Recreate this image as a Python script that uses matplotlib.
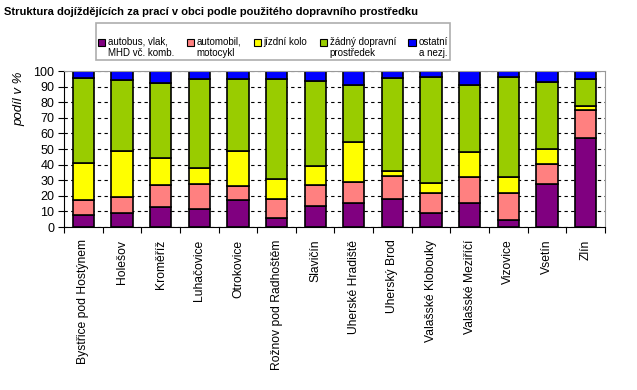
import numpy as np
import matplotlib.pyplot as plt
from matplotlib.patches import Patch

plt.rcParams['font.family'] = ['Liberation Sans', 'DejaVu Sans']

cities = ['Bystřice pod Hostýnem', 'Holešov', 'Kroměříž', 'Luhačovice', 'Otrokovice',
          'Rožnov pod Radhoštěm', 'Slavičín', 'Uherské Hradiště', 'Uherský Brod',
          'Valašské Klobouky', 'Valašské Meziříčí', 'Vizovice', 'Vsetín', 'Zlín']

# shares in % for each mode of transport
bus = [8, 8.7, 13, 11.7, 17, 6, 13.6, 15.6, 17.7, 9.2, 15.6, 4.7, 27.7, 57]
car = [9, 10.3, 14, 16, 9.5, 11.7, 13.4, 13.4, 15.1, 12.8, 16.6, 16.8, 12.8, 18]
bike = [24, 30, 17, 10.3, 22, 12.8, 12.2, 25.2, 3.2, 6, 15.6, 10.7, 9.5, 2.6]
none = [54.3, 45, 48.5, 57, 46.5, 64.5, 54.4, 36.8, 59.3, 68.4, 43.2, 64.2, 43, 17.4]
other = [4.7, 6, 7.5, 5, 5, 5, 6.4, 9, 4.7, 3.6, 9, 3.6, 7, 5]

series = [bus, car, bike, none, other]
labels = ['\nautobus, vlak,\nMHD vč. komb.', '\nautomobil,\nmotocykl', '\njízdní kolo\n ',
          '\nžádný dopravní\nprostředek', '\nostatní\na nezj.']
colors = ['#800080', '#FF8080', '#FFFF00', '#99CC00', '#0000FF']

fig = plt.figure(figsize=(6.37, 3.90), dpi=100)
ax = fig.add_axes([64/637, 1-227/390, 541/637, 156/390])

x = np.arange(len(cities))
bottom = np.zeros(len(cities))
for vals, col in zip(series, colors):
    vals = np.array(vals)
    ax.bar(x, vals, 0.55, bottom=bottom, color=col, edgecolor='black', linewidth=1.2)
    bottom += vals

ax.set_xlim(-0.5, len(cities) - 0.5)
ax.set_ylim(0, 100)
ax.set_yticks(range(0, 101, 10))
ax.tick_params(axis='y', labelsize=9, length=4, pad=3)
ax.set_xticks(np.arange(len(cities) + 1) - 0.5)
ax.set_xticklabels([])
ax.tick_params(axis='x', which='major', length=4)
ax.set_xticks(x, minor=True)
ax.set_xticklabels(cities, minor=True, rotation=90, fontsize=8.7)
ax.tick_params(axis='x', which='minor', length=0, pad=9)
ax.yaxis.grid(True, linestyle=(0, (3, 3)), color='black', linewidth=0.8)
ax.set_axisbelow(True)
ax.spines['top'].set_color('#999999')
ax.spines['right'].set_color('#999999')
ax.set_ylabel('podíl v %', fontsize=9.5, style='italic')
ax.yaxis.set_label_coords(-0.072, 0.82)

fig.text(4/637, 1-12/390, 'Struktura dojíždějících za prací v obci podle použitého dopravního prostředku',
         fontsize=8, fontweight='bold', va='center', ha='left')

handles = [Patch(facecolor=c, edgecolor='black', linewidth=0.8) for c in colors]
leg = fig.legend(handles, labels, ncol=5, loc='upper left',
                 bbox_to_anchor=(96/637, 1-23/390), fontsize=7, frameon=True,
                 fancybox=False, edgecolor='#999999', handlelength=0.75,
                 handleheight=0.75, handletextpad=0.3, columnspacing=1.25,
                 borderpad=0.2, borderaxespad=0)
leg.get_frame().set_linewidth(1.2)

fig.savefig('out.png', dpi=100)
